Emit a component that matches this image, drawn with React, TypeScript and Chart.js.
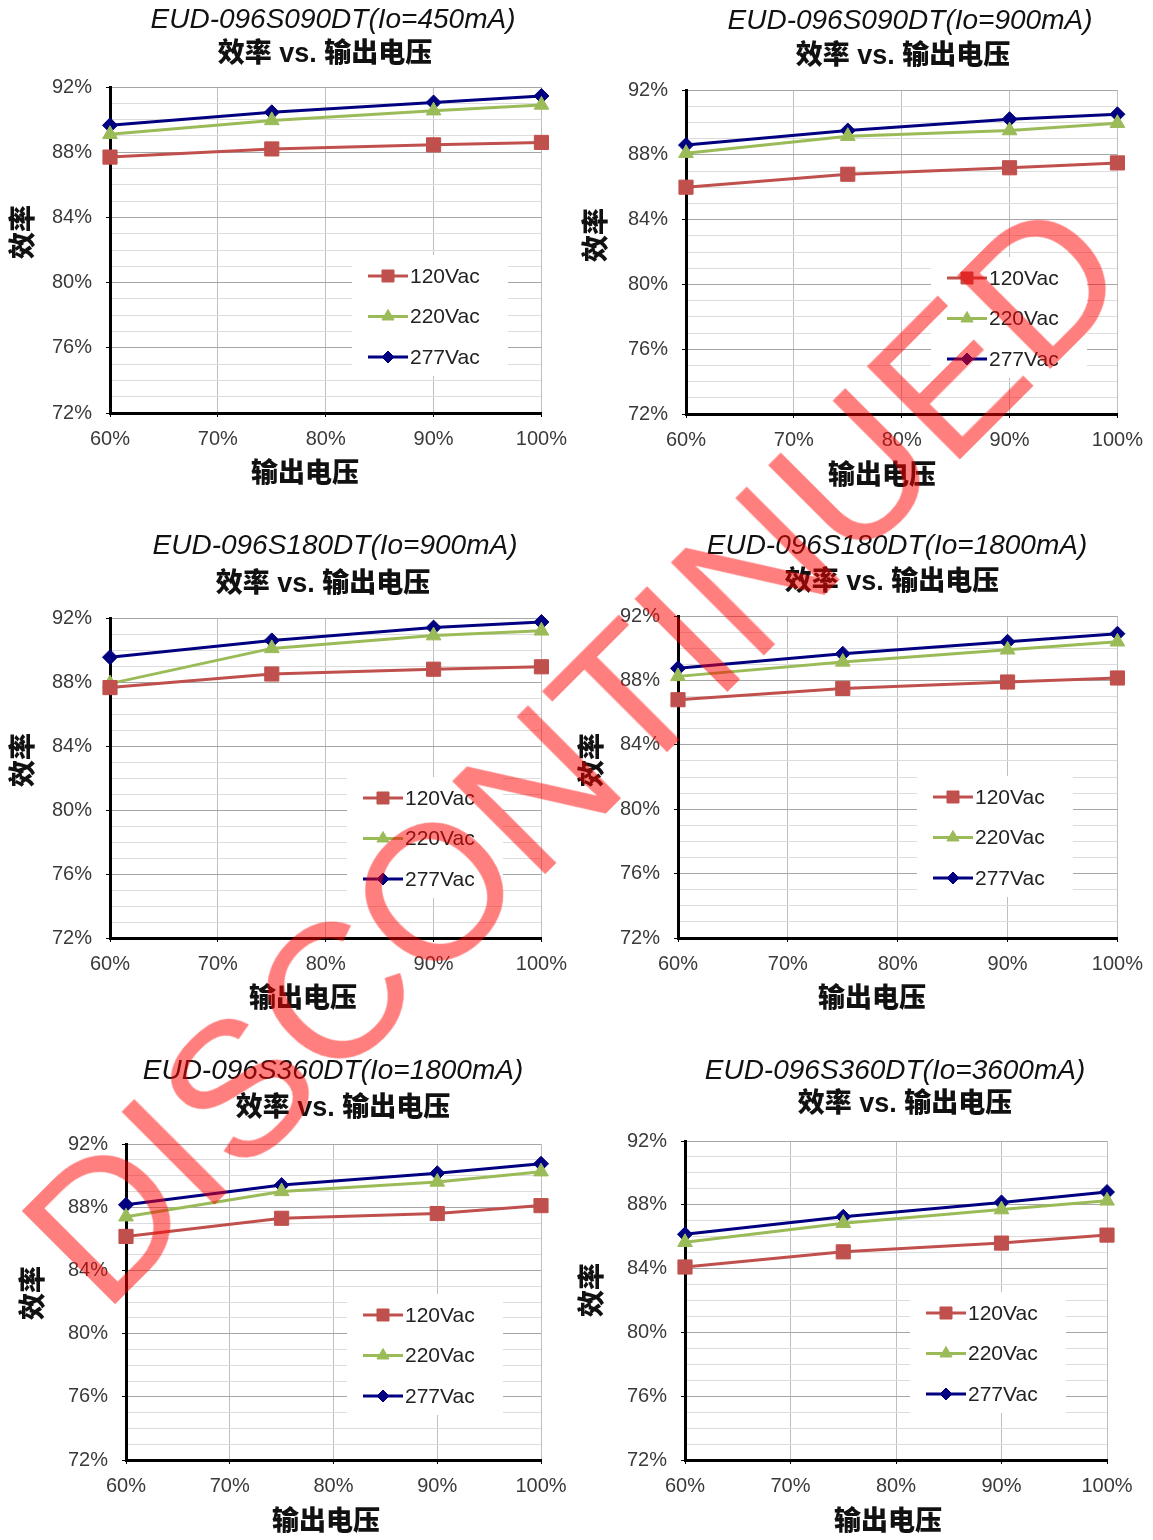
import React, { useEffect, useRef } from 'react';
import { Chart, registerables } from 'chart.js';
import { drawPoint } from 'chart.js/helpers';

Chart.register(...registerables);

// ---------- data ----------
const outputVoltage = [60, 75, 90, 100]; // % of rated output voltage
const seriesNames = ['120Vac', '220Vac', '277Vac'];
const xTickValues = [60, 70, 80, 90, 100];
const yMajorTicks = [72, 76, 80, 84, 88, 92];

const modelTitles = [
  'EUD-096S090DT(Io=450mA)',
  'EUD-096S090DT(Io=900mA)',
  'EUD-096S180DT(Io=900mA)',
  'EUD-096S180DT(Io=1800mA)',
  'EUD-096S360DT(Io=1800mA)',
  'EUD-096S360DT(Io=3600mA)',
];
const subTitle = '效率 vs. 输出电压';
const yAxisTitle = '效率';
const xAxisTitle = '输出电压';

// efficiency (%) per panel and input voltage
const s090_450_120 = [87.7, 88.2, 88.45, 88.6];
const s090_450_220 = [89.1, 89.95, 90.55, 90.9];
const s090_450_277 = [89.65, 90.45, 91.05, 91.45];

const s090_900_120 = [86.0, 86.8, 87.2, 87.5];
const s090_900_220 = [88.1, 89.15, 89.5, 89.95];
const s090_900_277 = [88.6, 89.5, 90.2, 90.5];

const s180_900_120 = [87.65, 88.5, 88.8, 88.95];
const s180_900_220 = [87.9, 90.1, 90.9, 91.2];
const s180_900_277 = [89.55, 90.6, 91.4, 91.75];

const s180_1800_120 = [86.8, 87.5, 87.9, 88.15];
const s180_1800_220 = [88.25, 89.15, 89.9, 90.4];
const s180_1800_277 = [88.75, 89.65, 90.4, 90.9];

const s360_1800_120 = [86.15, 87.3, 87.6, 88.1];
const s360_1800_220 = [87.4, 89.0, 89.6, 90.25];
const s360_1800_277 = [88.15, 89.4, 90.15, 90.75];

const s360_3600_120 = [84.1, 85.05, 85.6, 86.1];
const s360_3600_220 = [85.65, 86.85, 87.7, 88.25];
const s360_3600_277 = [86.15, 87.25, 88.15, 88.8];

const panelSeries = [
  [s090_450_120, s090_450_220, s090_450_277],
  [s090_900_120, s090_900_220, s090_900_277],
  [s180_900_120, s180_900_220, s180_900_277],
  [s180_1800_120, s180_1800_220, s180_1800_277],
  [s360_1800_120, s360_1800_220, s360_1800_277],
  [s360_3600_120, s360_3600_220, s360_3600_277],
];

// ---------- styles / layout ----------
const LATIN = '"Liberation Sans", Arial, sans-serif';
const CJK = '"Liberation Sans", "Noto Sans CJK SC", sans-serif';
const lineColors = ['#C0504D', '#9BBB59', '#000080'];
const pointStyles = ['rect', 'triangle', 'rectRot'];
const pointRadii = [10, 8.5, 7.5];
const LY = 60; // y scale width
const HX = 40; // x scale height

const layouts = [
  { cx: 0, cy: 0, cw: 577, ch: 510, L: 110, T: 87, R: 543, B: 413, t1: [333, 20], t2: [325, 55], yt: [25, 232], xt: [305, 475], lg: [368, 276] },
  { cx: 576, cy: 0, cw: 577, ch: 510, L: 686, T: 90, R: 1120, B: 414, t1: [910, 21], t2: [903, 57], yt: [598, 235], xt: [882, 477], lg: [947, 278] },
  { cx: 0, cy: 510, cw: 577, ch: 520, L: 110, T: 618, R: 548, B: 938, t1: [335, 546], t2: [323, 585], yt: [25, 760], xt: [303, 1000], lg: [363, 798] },
  { cx: 576, cy: 510, cw: 577, ch: 520, L: 678, T: 616, R: 1118, B: 938, t1: [897, 546], t2: [892, 583], yt: [594, 760], xt: [872, 1000], lg: [933, 797] },
  { cx: 0, cy: 1030, cw: 577, ch: 510, L: 126, T: 1144, R: 541, B: 1460, t1: [333, 1071], t2: [343, 1109], yt: [35, 1293], xt: [326, 1523], lg: [363, 1315] },
  { cx: 576, cy: 1030, cw: 577, ch: 510, L: 685, T: 1141, R: 1107, B: 1460, t1: [895, 1071], t2: [905, 1105], yt: [594, 1290], xt: [888, 1523], lg: [926, 1313] },
];

const panelTextPlugin = {
  id: 'panelText',
  afterDraw(chart: any, _args: any, opts: any) {
    const ctx = chart.ctx as CanvasRenderingContext2D;
    const lay = opts.layout;
    const ox = lay.cx;
    const oy = lay.cy;
    ctx.save();
    ctx.fillStyle = '#111';
    ctx.textAlign = 'center';
    ctx.textBaseline = 'middle';
    ctx.font = `italic 28px ${LATIN}`;
    ctx.fillText(opts.title, lay.t1[0] - ox, lay.t1[1] - oy);
    ctx.font = `900 27px ${CJK}`;
    ctx.fillText(subTitle, lay.t2[0] - ox, lay.t2[1] - oy);
    ctx.fillText(xAxisTitle, lay.xt[0] - ox, lay.xt[1] - oy);
    ctx.save();
    ctx.translate(lay.yt[0] - ox, lay.yt[1] - oy);
    ctx.rotate(-Math.PI / 2);
    ctx.fillText(yAxisTitle, 0, 0);
    ctx.restore();

    // legend inside plot area
    const lx = lay.lg[0] - ox;
    const ly = lay.lg[1] - oy;
    const step = 40.5;
    ctx.fillStyle = '#fff';
    ctx.fillRect(lx - 16, ly - 21, 156, step * 2 + 40);
    chart.data.datasets.forEach((ds: any, i: number) => {
      const y = ly + i * step;
      ctx.strokeStyle = ds.borderColor;
      ctx.lineWidth = 3;
      ctx.beginPath();
      ctx.moveTo(lx, y);
      ctx.lineTo(lx + 40, y);
      ctx.stroke();
      ctx.fillStyle = ds.backgroundColor;
      ctx.strokeStyle = ds.borderColor;
      ctx.lineWidth = 1;
      drawPoint(ctx, { pointStyle: ds.pointStyle, radius: ds.pointRadius - 1.5, rotation: 0, borderWidth: 1 } as any, lx + 20, y);
      ctx.fillStyle = '#222';
      ctx.textAlign = 'left';
      ctx.font = `21px ${LATIN}`;
      ctx.fillText(ds.label, lx + 42, y + 1);
    });
    ctx.restore();
  },
};

function Panel({ index }: { index: number }) {
  const ref = useRef<HTMLCanvasElement>(null);
  const lay = layouts[index];
  useEffect(() => {
    const series = panelSeries[index];
    const chart = new Chart(ref.current as HTMLCanvasElement, {
      type: 'line',
      data: {
        datasets: seriesNames.map((name, i) => ({
          label: name,
          data: outputVoltage.map((x, j) => ({ x, y: series[i][j] })),
          borderColor: lineColors[i],
          backgroundColor: lineColors[i],
          pointBackgroundColor: lineColors[i],
          pointBorderColor: lineColors[i],
          pointStyle: pointStyles[i] as any,
          pointRadius: pointRadii[i],
          pointBorderWidth: 1,
          borderWidth: 3,
          tension: 0,
          clip: false as any,
        })),
      },
      options: {
        responsive: false,
        animation: false,
        events: [],
        layout: {
          padding: {
            left: lay.L - lay.cx - LY,
            top: lay.T - lay.cy,
            right: lay.cx + lay.cw - lay.R,
            bottom: lay.cy + lay.ch - lay.B - HX,
          },
        },
        plugins: {
          legend: { display: false },
          tooltip: { enabled: false },
          title: { display: false },
          panelText: { layout: lay, title: modelTitles[index] },
        } as any,
        scales: {
          x: {
            type: 'linear',
            min: xTickValues[0],
            max: xTickValues[xTickValues.length - 1],
            afterBuildTicks: (s: any) => {
              s.ticks = xTickValues.map((v) => ({ value: v }));
            },
            ticks: {
              callback: (v: any) => `${v}%`,
              font: { family: LATIN, size: 20 },
              color: '#3a3a3a',
              padding: 10,
              maxRotation: 0,
            },
            grid: { color: '#BFBFBF', lineWidth: 1, drawTicks: true, tickLength: 4, tickColor: '#000' },
            border: { color: '#000', width: 3 },
            afterFit: (s: any) => {
              s.height = HX;
            },
          },
          y: {
            type: 'linear',
            min: yMajorTicks[0],
            max: yMajorTicks[yMajorTicks.length - 1],
            ticks: {
              stepSize: 1,
              autoSkip: false,
              callback: (v: any) => (yMajorTicks.includes(Number(v)) ? `${v}%` : ''),
              font: { family: LATIN, size: 20 },
              color: '#3a3a3a',
              padding: 14,
            },
            grid: {
              color: (c: any) => (yMajorTicks.includes(c.tick?.value) ? '#A6A6A6' : '#DCDCDC'),
              lineWidth: 1,
              drawTicks: true,
              tickLength: 4,
              tickColor: (c: any) => (yMajorTicks.includes(c.tick?.value) ? '#000' : 'rgba(0,0,0,0)'),
            },
            border: { color: '#000', width: 3 },
            afterFit: (s: any) => {
              s.width = LY;
            },
          },
        },
      },
      plugins: [panelTextPlugin],
    });
    return () => chart.destroy();
  }, [index]);
  return (
    <canvas
      ref={ref}
      width={lay.cw}
      height={lay.ch}
      style={{ position: 'absolute', left: lay.cx, top: lay.cy, width: lay.cw, height: lay.ch }}
    />
  );
}

export default function App() {
  return (
    <div style={{ position: 'absolute', left: 0, top: 0, width: 1153, height: 1540, background: '#fff', overflow: 'hidden' }}>
      {layouts.map((_, i) => (
        <Panel key={i} index={i} />
      ))}
      <div
        style={{
          position: 'absolute',
          left: 574 - 850,
          top: 752 - 96,
          width: 1700,
          height: 192,
          lineHeight: '192px',
          fontSize: 192,
          fontFamily: LATIN,
          color: 'rgba(255,0,0,0.5)',
          textAlign: 'center',
          whiteSpace: 'nowrap',
          transform: 'rotate(-45deg)',
          transformOrigin: '50% 50%',
          pointerEvents: 'none',
        }}
      >
        DISCONTINUED
      </div>
    </div>
  );
}
